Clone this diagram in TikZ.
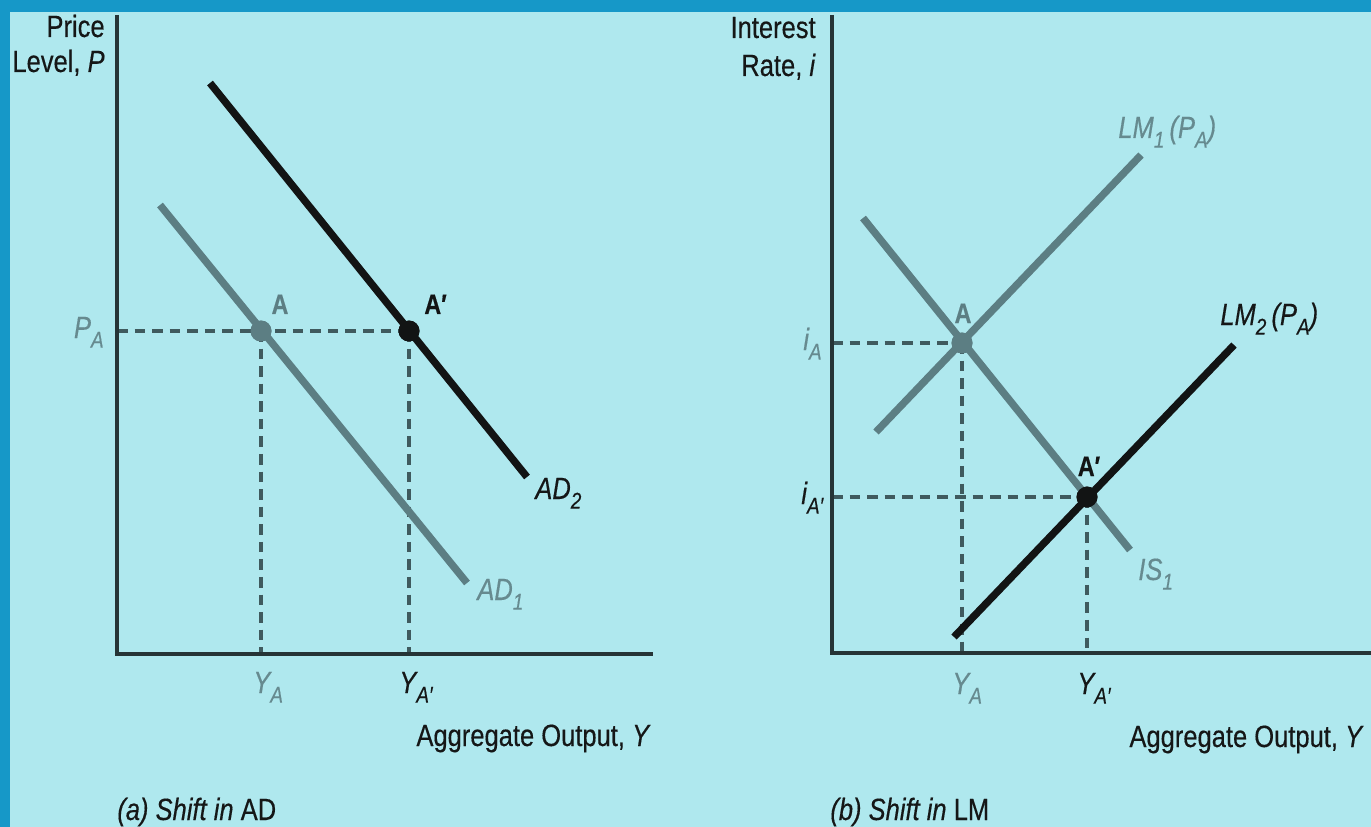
\documentclass[tikz,border=0pt]{standalone}
\usepackage{fontspec}
\setmainfont{Liberation Sans}[FakeStretch=0.83, FakeBold=0.35]
\definecolor{bordercol}{HTML}{1698C8}
\definecolor{bgcol}{HTML}{AFE8EE}
\definecolor{graycol}{HTML}{5C7E83}
\definecolor{lgray}{HTML}{668A8F}
\definecolor{dashcol}{HTML}{3F5A5E}
\definecolor{blackcol}{HTML}{121414}
\definecolor{axiscol}{HTML}{263436}
\definecolor{textcol}{HTML}{151717}
\newcommand\lsub[1]{\raisebox{-5.5pt}{\fontsize{13}{13}\selectfont #1}}
\tikzset{
  axisline/.style={line width=1.8pt, draw=axiscol},
  guide/.style={line width=2pt, dash pattern=on 6pt off 4pt, draw=dashcol},
  curveg/.style={line width=4.2pt, draw=graycol},
  curveb/.style={line width=4.2pt, draw=blackcol},
  dotg/.style={circle, fill=graycol, inner sep=0pt, minimum size=0.42cm},
  dotb/.style={circle, fill=blackcol, inner sep=0pt, minimum size=0.42cm},
  lbl/.style={font=\fontsize{17.5}{20}\selectfont, inner sep=0pt, text=textcol},
  glbl/.style={lbl, text=lgray},
  ptlbl/.style={font=\fontsize{16}{18}\selectfont\bfseries, inner sep=0pt},
}
\begin{document}
\begin{tikzpicture}[x=0.02cm, y=-0.02cm]
\fill[bordercol] (0,0) rectangle (1371,827);
\fill[bgcol] (10,12) rectangle (1371,827);
\useasboundingbox (0,0) rectangle (1371,827);

% ---------------- panel (a)
\coordinate (Ltop) at (117,15);
\coordinate (Lo) at (117,654);
\coordinate (Lright) at (653,654);
\coordinate (LPax) at (117,331);
\coordinate (LYAax) at (261,654);
\coordinate (LYApax) at (409,654);
\coordinate (AD2s) at (210,83);
\coordinate (AD2e) at (527,477);
\coordinate (AD1s) at (160,205);
\coordinate (AD1e) at (467,583);

\node[dotg] (LA) at (261,331) {};
\node[dotb] (LAp) at (409,331) {};

\draw[guide] (LPax) -- (LAp.center);
\draw[guide] (LA.center) -- (LYAax);
\draw[guide] (LAp.center) -- (LYApax);
\draw[axisline] (Ltop) -- (Lo) -- (Lright);
\draw[curveg] (AD1s) -- (AD1e);
\draw[curveb] (AD2s) -- (AD2e);
\node[dotg] at (LA) {};
\node[dotb] at (LAp) {};

\node[lbl, anchor=base east] (Lyl1) at (105,37) {Price};
\node[lbl, anchor=base east] (Lyl2) at (105,72) {Level, \textit{P}};
\node[glbl, anchor=base east] (LPA) at (104,338) {\itshape P\lsub{A}};
\node[ptlbl, text=graycol, anchor=base] (LAl) at (280,314) {A};
\node[ptlbl, text=blackcol, anchor=base west] (LApl) at (424,314) {A′};
\node[glbl, anchor=base west] (LYA) at (253,693) {\itshape Y\lsub{A}};
\node[lbl, anchor=base west] (LYAp) at (399,693) {\itshape Y\lsub{A′}};
\node[lbl, anchor=base east] (Lxl) at (651,746) {Aggregate Output, \textit{Y}};
\node[lbl, anchor=base west] (AD2l) at (535,499) {\itshape AD\lsub{2}};
\node[glbl, anchor=base west] (AD1l) at (477,600) {\itshape AD\lsub{1}};
\node[lbl, anchor=base west] (capa) at (117,820) {\itshape (a) Shift in \upshape AD};

% ---------------- panel (b)
\coordinate (Rtop) at (832,15);
\coordinate (Ro) at (832,653);
\coordinate (Rright) at (1371,653);
\coordinate (RiAax) at (832,343);
\coordinate (RiApax) at (832,497);
\coordinate (RYAax) at (962,653);
\coordinate (RYApax) at (1087,653);
\coordinate (LM1s) at (876,432);
\coordinate (LM1e) at (1141,155);
\coordinate (ISs) at (863,218);
\coordinate (ISe) at (1130,550);
\coordinate (LM2s) at (954,637);
\coordinate (LM2e) at (1234,345);

\node[dotg] (RA) at (962,343) {};
\node[dotb] (RAp) at (1087,497) {};

\draw[guide] (RiAax) -- (RA.center);
\draw[guide] (RiApax) -- (RAp.center);
\draw[guide] (RA.center) -- (RYAax);
\draw[guide] (RAp.center) -- (RYApax);
\draw[axisline] (Rtop) -- (Ro) -- (Rright);
\draw[curveg] (LM1s) -- (LM1e);
\draw[curveg] (ISs) -- (ISe);
\draw[curveb] (LM2s) -- (LM2e);
\node[dotg] at (RA) {};
\node[dotb] at (RAp) {};

\node[lbl, anchor=base east] (Ryl1) at (816,38) {Interest};
\node[lbl, anchor=base east] (Ryl2) at (816,76) {Rate, \textit{i}};
\node[glbl, anchor=base west] (RiA) at (803,350) {\itshape i\lsub{A}};
\node[lbl, anchor=base west] (RiAp) at (801,504) {\itshape i\lsub{A′}};
\node[ptlbl, text=graycol, anchor=base] (RAl) at (963,323) {A};
\node[ptlbl, text=blackcol, anchor=base] (RApl) at (1089,476) {A′};
\node[glbl, anchor=base west] (RYA) at (952,694) {\itshape Y\lsub{A}};
\node[lbl, anchor=base west] (RYAp) at (1077,694) {\itshape Y\lsub{A′}};
\node[lbl, anchor=base east] (Rxl) at (1364,747) {Aggregate Output, \textit{Y}};
\node[glbl, anchor=base west] (LM1l) at (1118,138) {\itshape LM\lsub{1}\,(P\lsub{A})};
\node[lbl, anchor=base west] (LM2l) at (1220,325) {\itshape LM\lsub{2}\,(P\lsub{A})};
\node[glbl, anchor=base west] (ISl) at (1138,580) {\itshape IS\lsub{1}};
\node[lbl, anchor=base west] (capb) at (830,820) {\itshape (b) Shift in \upshape LM};
\end{tikzpicture}
\end{document}
